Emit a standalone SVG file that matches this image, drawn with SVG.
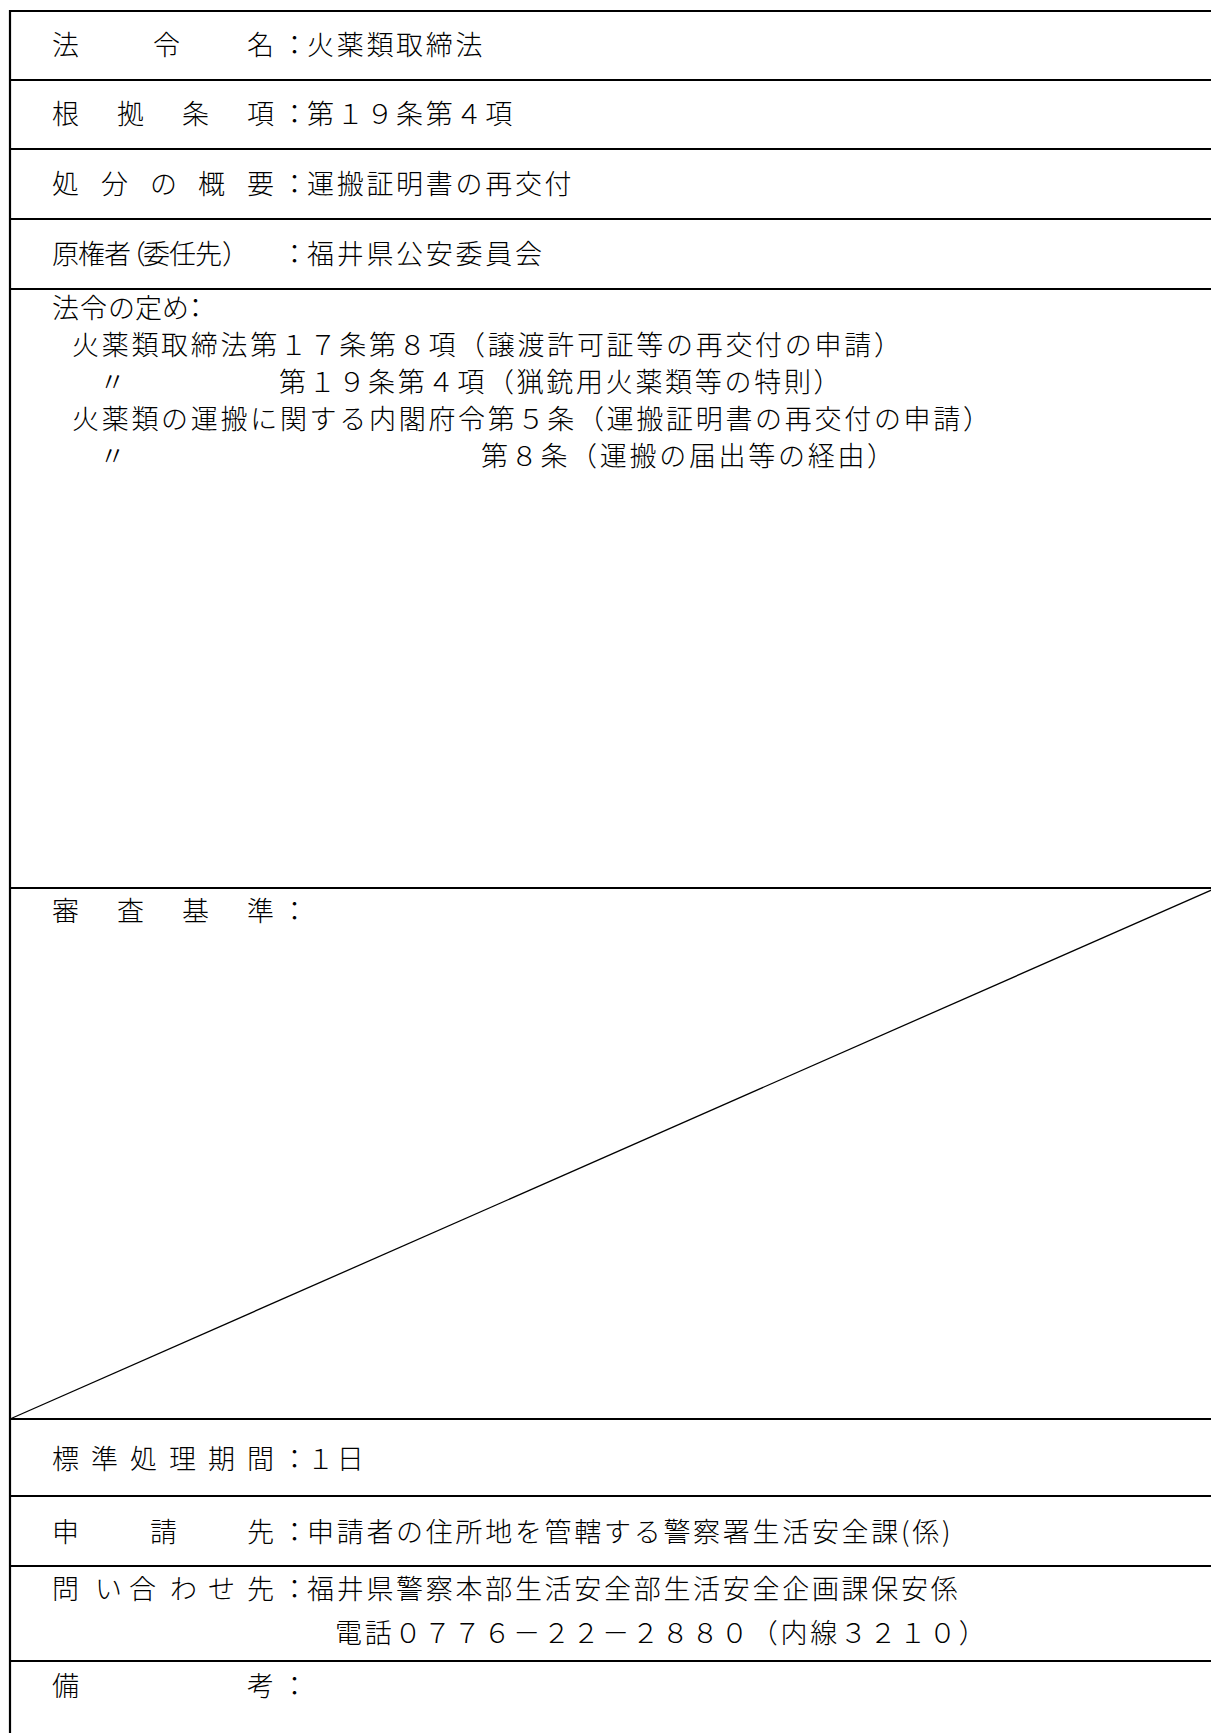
<svg xmlns="http://www.w3.org/2000/svg" width="1211" height="1733" viewBox="0 0 1211 1733">
<style>
text { font-family: "Noto Sans CJK JP", "Noto Sans CJK SC", sans-serif; font-size: 27px; fill: #000; font-weight: 300; }
.v { letter-spacing: 2.7px; }
.rule { stroke: #000; stroke-width: 2.2; fill: none; }
.diag { stroke: #000; stroke-width: 1.3; fill: none; }
</style>
<rect x="0" y="0" width="1211" height="1733" fill="#fff"/>
<g id="grid">
<line class="rule" x1="10" y1="11" x2="1211" y2="11"/>
<line class="rule" x1="10" y1="80" x2="1211" y2="80"/>
<line class="rule" x1="10" y1="149" x2="1211" y2="149"/>
<line class="rule" x1="10" y1="219" x2="1211" y2="219"/>
<line class="rule" x1="10" y1="289" x2="1211" y2="289"/>
<line class="rule" x1="10" y1="888" x2="1211" y2="888"/>
<line class="rule" x1="10" y1="1419" x2="1211" y2="1419"/>
<line class="rule" x1="10" y1="1496" x2="1211" y2="1496"/>
<line class="rule" x1="10" y1="1566" x2="1211" y2="1566"/>
<line class="rule" x1="10" y1="1661" x2="1211" y2="1661"/>
<line class="rule" x1="10" y1="10" x2="10" y2="1733"/>
<line class="diag" x1="1216" y1="888" x2="10" y2="1419"/>
</g>
<g id="row-law-name">
<text x="52 153 247 281" y="55">法令名：</text>
<text class="v" x="307" y="55">火薬類取締法</text>
</g>
<g id="row-article">
<text x="52 117 182 247 281" y="124">根拠条項：</text>
<text class="v" x="307" y="124">第１９条第４項</text>
</g>
<g id="row-summary">
<text x="52 101 150 198 247 281" y="194">処分の概要：</text>
<text class="v" x="307" y="194">運搬証明書の再交付</text>
</g>
<g id="row-authority">
<text x="52 78 104 119 143 169 195 222 281" y="264">原権者（委任先）：</text>
<text class="v" x="307" y="264">福井県公安委員会</text>
</g>
<g id="row-provisions">
<text x="52 80 108 135 162 182" y="318">法令の定め：</text>
<text class="v" x="72" y="355">火薬類取締法第１７条第８項（譲渡許可証等の再交付の申請）</text>
<text x="99" y="392">〃</text>
<text class="v" x="279" y="392">第１９条第４項（猟銃用火薬類等の特則）</text>
<text class="v" x="72" y="429">火薬類の運搬に関する内閣府令第５条（運搬証明書の再交付の申請）</text>
<text x="99" y="466">〃</text>
<text class="v" x="481" y="466">第８条（運搬の届出等の経由）</text>
</g>
<g id="row-criteria">
<text x="52 117 182 247 281" y="921">審査基準：</text>
</g>
<g id="row-period">
<text x="52 91 130 169 208 247 281" y="1469">標準処理期間：</text>
<text class="v" x="307" y="1469">１日</text>
</g>
<g id="row-apply">
<text x="52 150 247 281" y="1542">申請先：</text>
<text class="v" x="307" y="1542">申請者の住所地を管轄する警察署生活安全課(係)</text>
</g>
<g id="row-contact">
<text x="52 95 129 170 208 247 281" y="1599">問い合わせ先：</text>
<text class="v" x="307" y="1599">福井県警察本部生活安全部生活安全企画課保安係</text>
<text class="v" x="335" y="1643">電話０７７６－２２－２８８０（内線３２１０）</text>
</g>
<g id="row-remarks">
<text x="52 247 281" y="1696">備考：</text>
</g>
</svg>
